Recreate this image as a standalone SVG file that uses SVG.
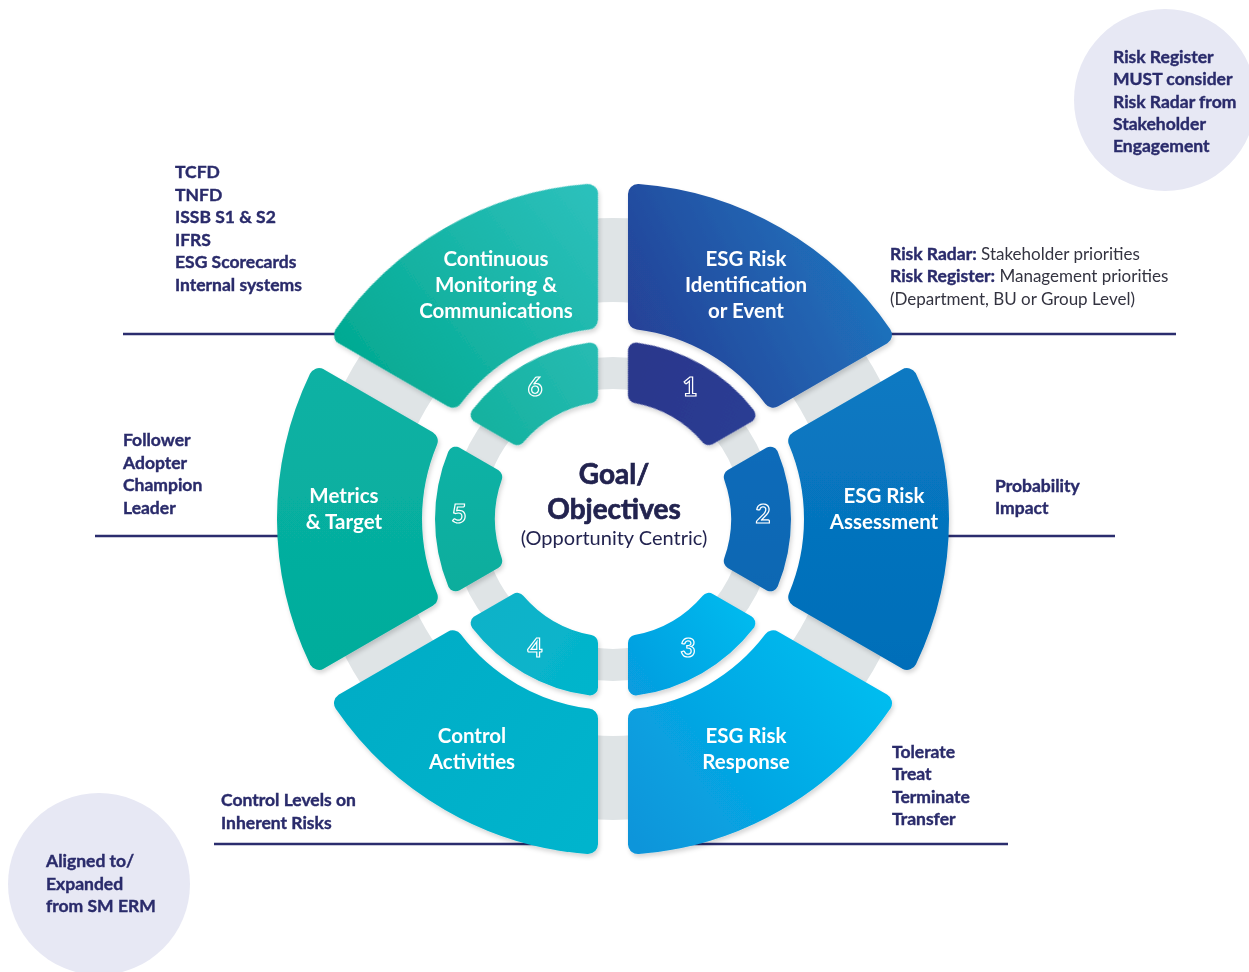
<svg xmlns="http://www.w3.org/2000/svg" width="1249" height="972" viewBox="0 0 1249 972">
<style>
.lbl{font-family:Lato,"Liberation Sans",sans-serif;font-weight:700;font-size:20.5px;fill:#fff;text-anchor:middle}
.num{font-family:Lato,"Liberation Sans",sans-serif;font-weight:700;font-size:26px;fill:none;stroke:#fff;stroke-width:1.2;text-anchor:middle}
.ann{font-family:Lato,"Liberation Sans",sans-serif;font-weight:700;font-size:17.5px;fill:#2a2b6b;stroke:#2a2b6b;stroke-width:0.4}
.reg{font-family:Lato,"Liberation Sans",sans-serif;font-weight:400;font-size:17px;fill:#333340;stroke:none}
.ctr{font-family:Lato,"Liberation Sans",sans-serif;font-weight:700;font-size:28px;fill:#22234f;stroke:#22234f;stroke-width:0.7;text-anchor:middle}
.ctr2{font-family:Lato,"Liberation Sans",sans-serif;font-weight:400;font-size:20px;fill:#22234f;text-anchor:middle}
.ln{stroke:#2b2d6e;stroke-width:2.5;fill:none}
.os{stroke-width:20;stroke-linejoin:round}
.is{stroke-width:16;stroke-linejoin:round}
</style>
<defs>
<filter id="sh" x="-10%" y="-10%" width="130%" height="130%">
<feDropShadow dx="1.5" dy="3" stdDeviation="2" flood-color="#000" flood-opacity="0.16"/>
</filter>
<path id="oseg" d="M185.22,-78.07 L293.99,-140.88 A326,326 0 0 1 293.99,140.88 L185.22,78.07 A201,201 0 0 0 185.22,-78.07 Z"/>
<path id="iseg" d="M118.79,-42.02 L157.37,-64.30 A170,170 0 0 1 157.37,64.30 L118.79,42.02 A126,126 0 0 0 118.79,-42.02 Z"/>
<linearGradient id="go1" gradientUnits="userSpaceOnUse" gradientTransform="rotate(60)" x1="20" y1="-140" x2="260" y2="-260"><stop offset="0" stop-color="#263d94"/><stop offset="1" stop-color="#1e74be"/></linearGradient>
<linearGradient id="gi1" gradientUnits="userSpaceOnUse" gradientTransform="rotate(60)" x1="20" y1="-130" x2="150" y2="-100"><stop offset="0" stop-color="#2b378c"/><stop offset="1" stop-color="#2a3d94"/></linearGradient>
<linearGradient id="go2" gradientUnits="userSpaceOnUse" x1="0" y1="-300" x2="0" y2="300"><stop offset="0" stop-color="#0c7fc7"/><stop offset="1" stop-color="#0068b4"/></linearGradient>
<linearGradient id="gi2" gradientUnits="userSpaceOnUse" x1="0" y1="-80" x2="0" y2="80"><stop offset="0" stop-color="#0b6cba"/><stop offset="1" stop-color="#0a66b2"/></linearGradient>
<linearGradient id="go3" gradientUnits="userSpaceOnUse" gradientTransform="rotate(-60)" x1="20" y1="320" x2="250" y2="150"><stop offset="0" stop-color="#0a95da"/><stop offset="1" stop-color="#00bcef"/></linearGradient>
<linearGradient id="gi3" gradientUnits="userSpaceOnUse" gradientTransform="rotate(-60)" x1="20" y1="170" x2="140" y2="90"><stop offset="0" stop-color="#079ddf"/><stop offset="1" stop-color="#00bbef"/></linearGradient>
<linearGradient id="go4" gradientUnits="userSpaceOnUse" gradientTransform="rotate(-120)" x1="-250" y1="150" x2="-20" y2="320"><stop offset="0" stop-color="#06adc6"/><stop offset="1" stop-color="#00b4cd"/></linearGradient>
<linearGradient id="gi4" gradientUnits="userSpaceOnUse" gradientTransform="rotate(-120)" x1="-140" y1="90" x2="-20" y2="170"><stop offset="0" stop-color="#0cb2c8"/><stop offset="1" stop-color="#04b5cc"/></linearGradient>
<linearGradient id="go5" gradientUnits="userSpaceOnUse" gradientTransform="rotate(-180)" x1="0" y1="-300" x2="0" y2="300"><stop offset="0" stop-color="#0db4a8"/><stop offset="1" stop-color="#00aa97"/></linearGradient>
<linearGradient id="gi5" gradientUnits="userSpaceOnUse" gradientTransform="rotate(-180)" x1="0" y1="-80" x2="0" y2="80"><stop offset="0" stop-color="#11b2a6"/><stop offset="1" stop-color="#0aad9c"/></linearGradient>
<linearGradient id="go6" gradientUnits="userSpaceOnUse" gradientTransform="rotate(120)" x1="-260" y1="-120" x2="-20" y2="-320"><stop offset="0" stop-color="#00a88f"/><stop offset="1" stop-color="#2cc0bb"/></linearGradient>
<linearGradient id="gi6" gradientUnits="userSpaceOnUse" gradientTransform="rotate(120)" x1="-150" y1="-80" x2="-20" y2="-170"><stop offset="0" stop-color="#12b09c"/><stop offset="1" stop-color="#26bbb2"/></linearGradient>
</defs>
<rect width="1249" height="972" fill="#fff"/>

<g id="info-circles">
<circle cx="1165" cy="100" r="91" fill="#e7e8f4"/>
<circle cx="99" cy="884" r="91" fill="#e7e8f4"/>
</g>

<g id="rings" fill="none" stroke="#dfe4e6">
<circle cx="613" cy="519" r="259" stroke-width="84"/>
<circle cx="613" cy="519" r="146" stroke-width="32"/>
</g>

<g id="connectors">
<line class="ln" x1="123" y1="334" x2="345" y2="334"/>
<line class="ln" x1="880" y1="334" x2="1176" y2="334"/>
<line class="ln" x1="95" y1="536" x2="285" y2="536"/>
<line class="ln" x1="940" y1="536" x2="1115" y2="536"/>
<line class="ln" x1="214" y1="844" x2="560" y2="844"/>
<line class="ln" x1="680" y1="844" x2="1008" y2="844"/>
</g>

<g transform="translate(613,519)" filter="url(#sh)">
<g id="seg-1-outer"><use href="#oseg" class="os" fill="url(#go1)" stroke="url(#go1)" transform="rotate(-60)"/></g>
<g id="seg-2-outer"><use href="#oseg" class="os" fill="url(#go2)" stroke="url(#go2)"/></g>
<g id="seg-3-outer"><use href="#oseg" class="os" fill="url(#go3)" stroke="url(#go3)" transform="rotate(60)"/></g>
<g id="seg-4-outer"><use href="#oseg" class="os" fill="url(#go4)" stroke="url(#go4)" transform="rotate(120)"/></g>
<g id="seg-5-outer"><use href="#oseg" class="os" fill="url(#go5)" stroke="url(#go5)" transform="rotate(180)"/></g>
<g id="seg-6-outer"><use href="#oseg" class="os" fill="url(#go6)" stroke="url(#go6)" transform="rotate(-120)"/></g>
<g id="seg-1-inner"><use href="#iseg" class="is" fill="url(#gi1)" stroke="url(#gi1)" transform="rotate(-60)"/></g>
<g id="seg-2-inner"><use href="#iseg" class="is" fill="url(#gi2)" stroke="url(#gi2)"/></g>
<g id="seg-3-inner"><use href="#iseg" class="is" fill="url(#gi3)" stroke="url(#gi3)" transform="rotate(60)"/></g>
<g id="seg-4-inner"><use href="#iseg" class="is" fill="url(#gi4)" stroke="url(#gi4)" transform="rotate(120)"/></g>
<g id="seg-5-inner"><use href="#iseg" class="is" fill="url(#gi5)" stroke="url(#gi5)" transform="rotate(180)"/></g>
<g id="seg-6-inner"><use href="#iseg" class="is" fill="url(#gi6)" stroke="url(#gi6)" transform="rotate(-120)"/></g>
</g>

<g id="labels">
<text class="lbl" x="746" y="266">ESG Risk</text>
<text class="lbl" x="746" y="292">Identification</text>
<text class="lbl" x="746" y="318">or Event</text>
<text class="lbl" x="884" y="503">ESG Risk</text>
<text class="lbl" x="884" y="529">Assessment</text>
<text class="lbl" x="746" y="743">ESG Risk</text>
<text class="lbl" x="746" y="769">Response</text>
<text class="lbl" x="472" y="743">Control</text>
<text class="lbl" x="472" y="769">Activities</text>
<text class="lbl" x="344" y="503">Metrics</text>
<text class="lbl" x="344" y="529">&amp; Target</text>
<text class="lbl" x="496" y="266">Continuous</text>
<text class="lbl" x="496" y="292">Monitoring &amp;</text>
<text class="lbl" x="496" y="318">Communications</text>
</g>

<g id="numbers">
<text class="num" x="690" y="396">1</text>
<text class="num" x="763" y="523">2</text>
<text class="num" x="688" y="657">3</text>
<text class="num" x="535" y="657">4</text>
<text class="num" x="459" y="523">5</text>
<text class="num" x="535" y="396">6</text>
</g>

<g id="center">
<text class="ctr" x="614" y="484">Goal/</text>
<text class="ctr" x="614" y="519">Objectives</text>
<text class="ctr2" x="614" y="545">(Opportunity Centric)</text>
</g>

<g id="note-frameworks">
<text class="ann" x="175" y="178">TCFD</text>
<text class="ann" x="175" y="201">TNFD</text>
<text class="ann" x="175" y="223">ISSB S1 &amp; S2</text>
<text class="ann" x="175" y="246">IFRS</text>
<text class="ann" x="175" y="268">ESG Scorecards</text>
<text class="ann" x="175" y="291">Internal systems</text>
</g>

<g id="note-radar">
<text x="890" y="260"><tspan class="ann">Risk Radar:</tspan><tspan class="reg"> Stakeholder priorities</tspan></text>
<text x="890" y="282"><tspan class="ann">Risk Register:</tspan><tspan class="reg"> Management priorities</tspan></text>
<text class="reg" x="890" y="305">(Department, BU or Group Level)</text>
</g>

<g id="note-maturity">
<text class="ann" x="123" y="446">Follower</text>
<text class="ann" x="123" y="469">Adopter</text>
<text class="ann" x="123" y="491">Champion</text>
<text class="ann" x="123" y="514">Leader</text>
</g>

<g id="note-assessment">
<text class="ann" x="995" y="492">Probability</text>
<text class="ann" x="995" y="514">Impact</text>
</g>

<g id="note-control">
<text class="ann" x="221" y="806">Control Levels on</text>
<text class="ann" x="221" y="829">Inherent Risks</text>
</g>

<g id="note-response">
<text class="ann" x="892" y="758">Tolerate</text>
<text class="ann" x="892" y="780">Treat</text>
<text class="ann" x="892" y="803">Terminate</text>
<text class="ann" x="892" y="825">Transfer</text>
</g>

<g id="note-register">
<text class="ann" x="1113" y="63">Risk Register</text>
<text class="ann" x="1113" y="85">MUST consider</text>
<text class="ann" x="1113" y="108">Risk Radar from</text>
<text class="ann" x="1113" y="130">Stakeholder</text>
<text class="ann" x="1113" y="152">Engagement</text>
</g>

<g id="note-aligned">
<text class="ann" x="46" y="867">Aligned to/</text>
<text class="ann" x="46" y="890">Expanded</text>
<text class="ann" x="46" y="912">from SM ERM</text>
</g>
</svg>
